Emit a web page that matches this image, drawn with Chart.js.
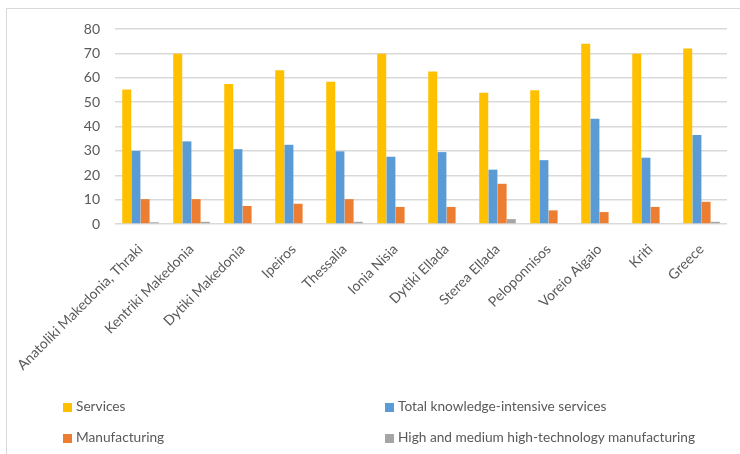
<!DOCTYPE html>
<html>
<head>
<meta charset="utf-8">
<script src="https://cdn.jsdelivr.net/npm/chart.js@4.4.1/dist/chart.umd.min.js"></script>
<style>
  html, body { margin: 0; padding: 0; background: #fff; }
  #frame {
    position: absolute; left: 6px; top: 8px; width: 740px; height: 460px;
    border-left: 1px solid #d9d9d9; border-top: 1px solid #d9d9d9;
  }
  #wrap { position: absolute; left: 0; top: 0; width: 740px; height: 454px; }
  #legend { position: absolute; left: 0; top: 0; width: 740px; height: 454px; pointer-events: none; }
  .item {
    position: absolute; font-family: Lato, "Open Sans", sans-serif; font-size: 13.7px;
    color: #595959; line-height: 16px; white-space: nowrap;
  }
  .item span.box { display: inline-block; width: 9px; height: 9px; margin-right: 4px; vertical-align: -1px; }
</style>
</head>
<body>
<div id="frame"></div>
<div id="wrap"><canvas id="barChart" width="740" height="454"></canvas></div>
<div id="legend"></div>
<script>
// Regiões e séries
const regioes = [
  "Anatoliki Makedonia, Thraki", "Kentriki Makedonia", "Dytiki Makedonia", "Ipeiros",
  "Thessalia", "Ionia Nisia", "Dytiki Ellada", "Sterea Ellada", "Peloponnisos",
  "Voreio Aigaio", "Kriti", "Greece"
];
const servicos = [55.2, 69.8, 57.4, 63.1, 58.4, 69.8, 62.6, 53.8, 54.9, 74.0, 69.8, 72.0];
const servicosConhecimento = [30.0, 33.9, 30.7, 32.5, 29.8, 27.6, 29.5, 22.3, 26.2, 43.2, 27.2, 36.5];
const manufatura = [10.2, 10.2, 7.4, 8.3, 10.2, 7.0, 7.0, 16.5, 5.6, 4.9, 7.0, 9.1];
const altaTecnologia = [0.7, 0.9, 0, 0, 0.9, 0, 0, 2.0, 0, 0, 0, 0.9];
const ticksY = [0, 10, 20, 30, 40, 50, 60, 70, 80];

const series = [
  { label: "Services", data: servicos, cor: "#FFC000" },
  { label: "Total knowledge-intensive services", data: servicosConhecimento, cor: "#5B9BD5" },
  { label: "Manufacturing", data: manufatura, cor: "#ED7D31" },
  { label: "High and medium high-technology manufacturing", data: altaTecnologia, cor: "#A5A5A5" }
];

const fonte = { family: "Lato, 'Open Sans', sans-serif", size: 14 };

function renderizarGrafico() {
  const ctx = document.getElementById("barChart").getContext("2d");
  return new Chart(ctx, {
    type: "bar",
    data: {
      labels: regioes,
      datasets: series.map(s => ({
        label: s.label,
        data: s.data,
        backgroundColor: s.cor,
        borderWidth: 0,
        categoryPercentage: 0.72,
        barPercentage: 0.98
      }))
    },
    options: {
      responsive: false,
      animation: false,
      layout: { padding: { top: 29, right: 13, left: 0, bottom: 0 } },
      plugins: { legend: { display: false }, tooltip: { enabled: false } },
      scales: {
        x: {
          grid: { display: false },
          border: { display: false },
          ticks: {
            color: "#595959", font: fonte, minRotation: 45, maxRotation: 45,
            autoSkip: false, padding: 9
          },
          afterFit: scale => { scale.height = 454 - 224; }
        },
        y: {
          min: ticksY[0],
          max: ticksY[ticksY.length - 1],
          afterBuildTicks: scale => { scale.ticks = ticksY.map(v => ({ value: v })); },
          grid: { color: "#d9d9d9", lineWidth: 1.5, drawTicks: false },
          border: { display: false },
          ticks: { color: "#595959", font: fonte, padding: 15 },
          afterFit: scale => { scale.width = 115; }
        }
      }
    }
  });
}

// Legenda em duas colunas
function carregarLegenda(chart) {
  const legenda = document.getElementById("legend");
  const posicoes = [[63, 398], [385, 398], [63, 429], [385, 429]];
  chart.data.datasets.forEach((ds, i) => {
    const div = document.createElement("div");
    div.className = "item";
    div.style.left = posicoes[i][0] + "px";
    div.style.top = posicoes[i][1] + "px";
    div.innerHTML = `<span class="box" style="background:${ds.backgroundColor}"></span>${ds.label}`;
    legenda.appendChild(div);
  });
}

document.addEventListener("DOMContentLoaded", () => {
  const chart = renderizarGrafico();
  carregarLegenda(chart);
});
</script>
</body>
</html>
